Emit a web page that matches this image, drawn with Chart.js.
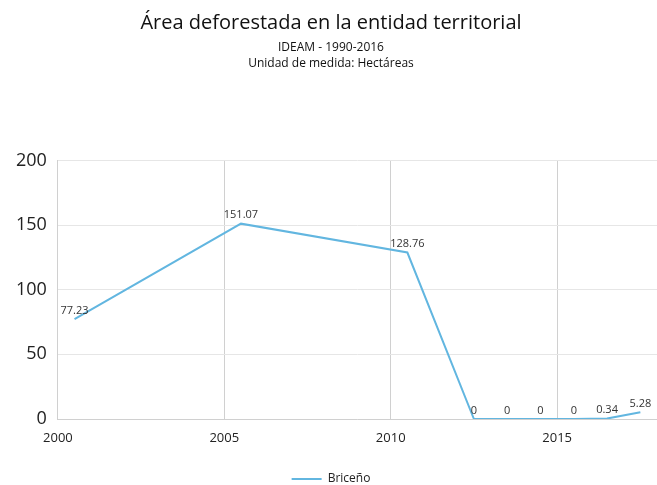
<!DOCTYPE html>
<html>
<head>
<meta charset="utf-8">
<script src="https://cdn.jsdelivr.net/npm/chart.js@4/dist/chart.umd.min.js"></script>
<style>
  html, body { margin: 0; padding: 0; background: #fff; }
  #wrap { width: 657px; height: 485px; }
</style>
</head>
<body>
<div id="wrap"><canvas id="chart" width="657" height="485"></canvas></div>
<script>
// Data
const years = [2000.5, 2005.5, 2010.5, 2012.5, 2013.5, 2014.5, 2015.5, 2016.5, 2017.5];
const hectares = [77.23, 151.07, 128.76, 0, 0, 0, 0, 0.34, 5.28];
const valueLabels = ['77.23', '151.07', '128.76', '0', '0', '0', '0', '0.34', '5.28'];
const xTicks = [2000, 2005, 2010, 2015];
const yTicks = [0, 50, 100, 150, 200];

const LINE = '#62B6E0';

// Small labels above each point
const pointLabels = {
  id: 'pointLabels',
  afterDatasetsDraw(chart) {
    const ctx = chart.ctx;
    const meta = chart.getDatasetMeta(0);
    ctx.save();
    ctx.font = '11px "Open Sans", sans-serif';
    ctx.fillStyle = '#333';
    ctx.textAlign = 'center';
    ctx.textBaseline = 'bottom';
    meta.data.forEach((pt, i) => {
      ctx.fillText(valueLabels[i], pt.x, pt.y - 3);
    });
    ctx.restore();
  }
};

new Chart(document.getElementById('chart').getContext('2d'), {
  type: 'line',
  data: {
    datasets: [{
      label: 'Briceño',
      data: years.map((x, i) => ({ x, y: hectares[i] })),
      borderColor: LINE,
      backgroundColor: LINE,
      borderWidth: 2,
      pointRadius: 0,
      tension: 0,
      fill: false
    }]
  },
  options: {
    responsive: false,
    animation: false,
    layout: { padding: { left: 5, right: 0, top: 0, bottom: -10 } },
    plugins: {
      title: {
        display: true,
        text: 'Área deforestada en la entidad territorial',
        color: '#111',
        font: { family: '"Open Sans", sans-serif', size: 20, weight: 'normal' },
        padding: { top: 11, bottom: 0 }
      },
      subtitle: {
        display: true,
        text: ['IDEAM - 1990-2016', 'Unidad de medida: Hectáreas'],
        color: '#111',
        font: { family: '"Open Sans", sans-serif', size: 12, weight: 'normal', lineHeight: 1.35 },
        padding: { top: 4, bottom: 89 }
      },
      legend: {
        position: 'bottom',
        labels: {
          usePointStyle: true,
          pointStyle: 'line',
          pointStyleWidth: 30,
          color: '#222',
          font: { family: '"Open Sans", sans-serif', size: 12 },
          padding: 2
        }
      },
      tooltip: { enabled: false }
    },
    scales: {
      x: {
        type: 'linear',
        min: 2000,
        max: 2018,
        afterBuildTicks: s => { s.ticks = xTicks.map(v => ({ value: v })); },
        afterFit: s => { s.height = 52; },
        grid: { color: '#d0d0d0', drawTicks: false },
        border: { color: '#d0d0d0' },
        ticks: {
          color: '#222',
          padding: 11,
          maxRotation: 0,
          callback: v => String(v),
          font: { family: '"Open Sans", sans-serif', size: 13 }
        }
      },
      y: {
        min: 0,
        max: 200,
        afterBuildTicks: s => { s.ticks = yTicks.map(v => ({ value: v })); },
        grid: { color: '#e6e6e6', drawTicks: false },
        border: { color: '#d0d0d0' },
        ticks: {
          color: '#222',
          padding: 11,
          font: { family: '"Open Sans", sans-serif', size: 18 }
        }
      }
    }
  },
  plugins: [pointLabels]
});
</script>
</body>
</html>
